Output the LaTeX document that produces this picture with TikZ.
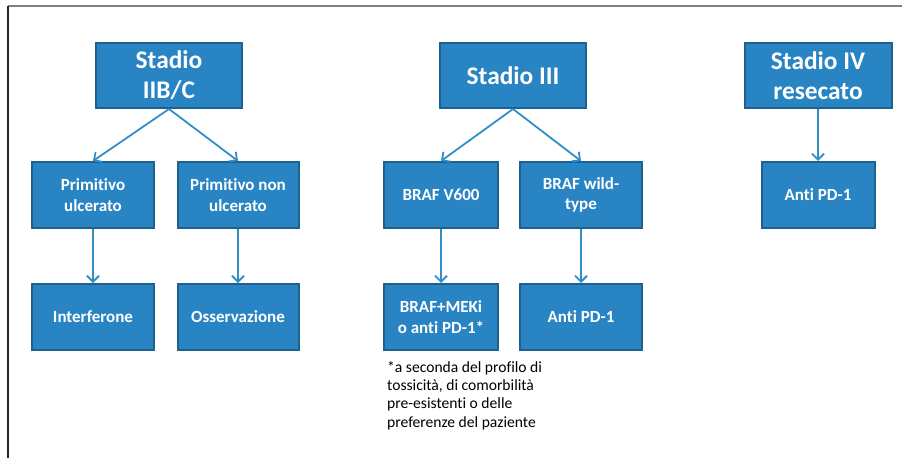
\documentclass[tikz,border=0pt]{standalone}
\usepackage{fontspec}
\setmainfont{Carlito}[Ligatures=NoCommon]
\usetikzlibrary{arrows.meta, positioning}
\definecolor{boxblue}{RGB}{41,132,195}
\definecolor{boxedge}{RGB}{30,96,142}
\definecolor{lineblue}{RGB}{50,141,201}

\begin{document}
\begin{tikzpicture}[x=1pt, y=-1pt,
  box/.style={draw=boxedge, fill=boxblue, line width=2pt, text=white, align=center,
    inner sep=0pt, minimum height=66pt, font=\bfseries\fontsize{17}{20.5}\selectfont},
  stage/.style={box, minimum height=65pt, font=\bfseries\fontsize{25.4}{30}\selectfont},
  link/.style={draw=lineblue, line width=1.8pt, -{Straight Barb[length=6pt, width=12pt]}}]
\useasboundingbox (0,0) rectangle (902,458);
\draw[gray, line width=1.5pt] (8,6) -- (902,6);
\draw[black!85, line width=1.8pt] (8,6) -- (8,458);

% stadi
\node[stage, minimum width=146pt] (s2) at (169,75.5) {Stadio\\IIB/C};
\node[stage, minimum width=146pt] (s3) at (513,75.5) {Stadio III};
\node[stage, minimum width=147pt] (s4) at (818,75.5) {Stadio IV\\resecato};

% secondo livello
\node[box, minimum width=122pt] (pu) at (93,195) {Primitivo\\ulcerato};
\node[box, minimum width=121pt] (pn) at (238,195) {Primitivo non\\ulcerato};
\node[box, minimum width=114pt] (bv) at (441,195) {BRAF V600};
\node[box, minimum width=122pt] (bw) at (581,195) {BRAF wild-\\type};
\node[box, minimum width=113pt] (a4) at (818,195) {Anti PD-1};

% terapie
\node[box, minimum width=122pt, below=54pt of pu] (ifn) {Interferone};
\node[box, minimum width=121pt, below=54pt of pn] (oss) {Osservazione};
\node[box, minimum width=114pt, below=54pt of bv] (bm) {BRAF+MEKi\\o anti PD-1*};
\node[box, minimum width=122pt, below=54pt of bw] (a3) {Anti PD-1};

\node[anchor=north west, inner sep=0pt, align=left, font=\fontsize{15.6}{18.3}\selectfont]
  (nota) at (387,361) {*a seconda del profilo di\\tossicità, di comorbilità\\pre-esistenti o delle\\preferenze del paziente};

\draw[link] (s2.south) -- (pu.north);
\draw[link] (s2.south) -- (pn.north);
\draw[link] (s3.south) -- (bv.north);
\draw[link] (s3.south) -- (bw.north);
\draw[link] (s4) -- (a4);
\draw[link] (pu) -- (ifn);
\draw[link] (pn) -- (oss);
\draw[link] (bv) -- (bm);
\draw[link] (bw) -- (a3);
\end{tikzpicture}
\end{document}
